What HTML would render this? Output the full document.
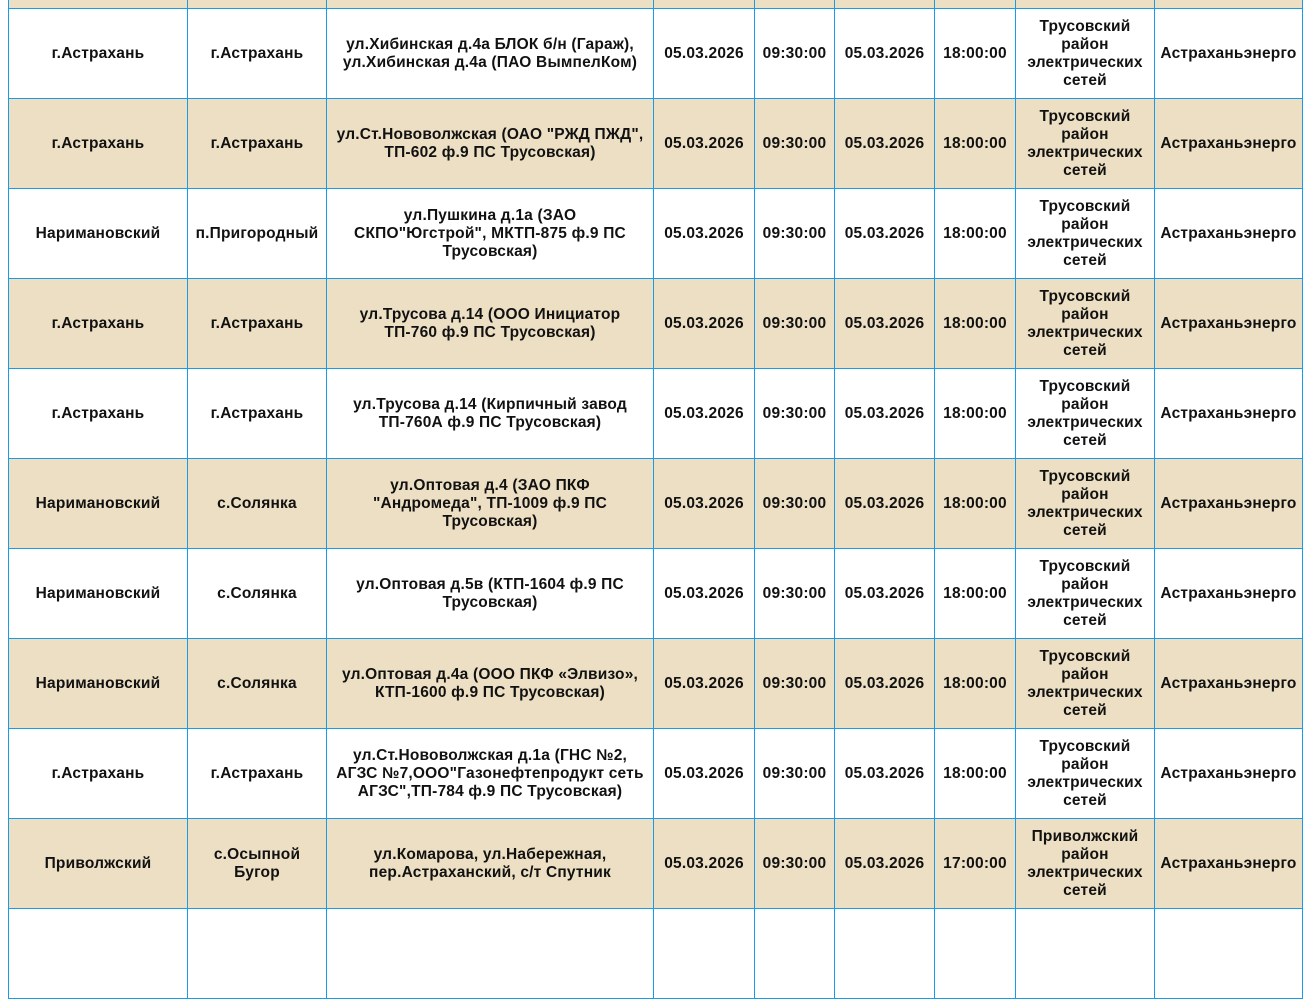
<!DOCTYPE html>
<html><head><meta charset="utf-8"><style>
body{margin:0;width:1313px;height:918px;overflow:hidden;background:#fff;font-family:"Liberation Sans","DejaVu Sans",sans-serif;}
table{position:absolute;left:8px;top:-82px;border-collapse:collapse;table-layout:fixed;}
td{border:1px solid #1a9be6;height:89px;padding:0 1px;text-align:center;vertical-align:middle;font-weight:bold;font-size:15.5px;letter-spacing:0.2px;line-height:18px;color:#111;overflow:hidden;white-space:nowrap;}
tr.b td{background:#ecdfc3;}
</style></head><body>
<table>
<colgroup><col style="width:179px"><col style="width:139px"><col style="width:327px"><col style="width:101px"><col style="width:80px"><col style="width:100px"><col style="width:81px"><col style="width:139px"><col style="width:148px"></colgroup>
<tr class="b"><td></td><td></td><td></td><td></td><td></td><td></td><td></td><td></td><td></td></tr>
<tr><td>г.Астрахань</td><td>г.Астрахань</td><td>ул.Хибинская д.4а БЛОК б/н (Гараж),<br>ул.Хибинская д.4а (ПАО ВымпелКом)</td><td>05.03.2026</td><td>09:30:00</td><td>05.03.2026</td><td>18:00:00</td><td>Трусовский<br>район<br>электрических<br>сетей</td><td>Астраханьэнерго</td></tr>
<tr class="b"><td>г.Астрахань</td><td>г.Астрахань</td><td>ул.Ст.Нововолжская (ОАО "РЖД ПЖД",<br>ТП-602 ф.9 ПС Трусовская)</td><td>05.03.2026</td><td>09:30:00</td><td>05.03.2026</td><td>18:00:00</td><td>Трусовский<br>район<br>электрических<br>сетей</td><td>Астраханьэнерго</td></tr>
<tr><td>Наримановский</td><td>п.Пригородный</td><td>ул.Пушкина д.1а (ЗАО<br>СКПО"Югстрой", МКТП-875 ф.9 ПС<br>Трусовская)</td><td>05.03.2026</td><td>09:30:00</td><td>05.03.2026</td><td>18:00:00</td><td>Трусовский<br>район<br>электрических<br>сетей</td><td>Астраханьэнерго</td></tr>
<tr class="b"><td>г.Астрахань</td><td>г.Астрахань</td><td>ул.Трусова д.14 (ООО Инициатор<br>ТП-760 ф.9 ПС Трусовская)</td><td>05.03.2026</td><td>09:30:00</td><td>05.03.2026</td><td>18:00:00</td><td>Трусовский<br>район<br>электрических<br>сетей</td><td>Астраханьэнерго</td></tr>
<tr><td>г.Астрахань</td><td>г.Астрахань</td><td>ул.Трусова д.14 (Кирпичный завод<br>ТП-760А ф.9 ПС Трусовская)</td><td>05.03.2026</td><td>09:30:00</td><td>05.03.2026</td><td>18:00:00</td><td>Трусовский<br>район<br>электрических<br>сетей</td><td>Астраханьэнерго</td></tr>
<tr class="b"><td>Наримановский</td><td>с.Солянка</td><td>ул.Оптовая д.4 (ЗАО ПКФ<br>"Андромеда", ТП-1009 ф.9 ПС<br>Трусовская)</td><td>05.03.2026</td><td>09:30:00</td><td>05.03.2026</td><td>18:00:00</td><td>Трусовский<br>район<br>электрических<br>сетей</td><td>Астраханьэнерго</td></tr>
<tr><td>Наримановский</td><td>с.Солянка</td><td>ул.Оптовая д.5в (КТП-1604 ф.9 ПС<br>Трусовская)</td><td>05.03.2026</td><td>09:30:00</td><td>05.03.2026</td><td>18:00:00</td><td>Трусовский<br>район<br>электрических<br>сетей</td><td>Астраханьэнерго</td></tr>
<tr class="b"><td>Наримановский</td><td>с.Солянка</td><td>ул.Оптовая д.4а (ООО ПКФ «Элвизо»,<br>КТП-1600 ф.9 ПС Трусовская)</td><td>05.03.2026</td><td>09:30:00</td><td>05.03.2026</td><td>18:00:00</td><td>Трусовский<br>район<br>электрических<br>сетей</td><td>Астраханьэнерго</td></tr>
<tr><td>г.Астрахань</td><td>г.Астрахань</td><td>ул.Ст.Нововолжская д.1а (ГНС №2,<br>АГЗС №7,ООО"Газонефтепродукт сеть<br>АГЗС",ТП-784 ф.9 ПС Трусовская)</td><td>05.03.2026</td><td>09:30:00</td><td>05.03.2026</td><td>18:00:00</td><td>Трусовский<br>район<br>электрических<br>сетей</td><td>Астраханьэнерго</td></tr>
<tr class="b"><td>Приволжский</td><td>с.Осыпной<br>Бугор</td><td>ул.Комарова, ул.Набережная,<br>пер.Астраханский, с/т Спутник</td><td>05.03.2026</td><td>09:30:00</td><td>05.03.2026</td><td>17:00:00</td><td>Приволжский<br>район<br>электрических<br>сетей</td><td>Астраханьэнерго</td></tr>
<tr><td></td><td></td><td></td><td></td><td></td><td></td><td></td><td></td><td></td></tr>
</table>
</body></html>
